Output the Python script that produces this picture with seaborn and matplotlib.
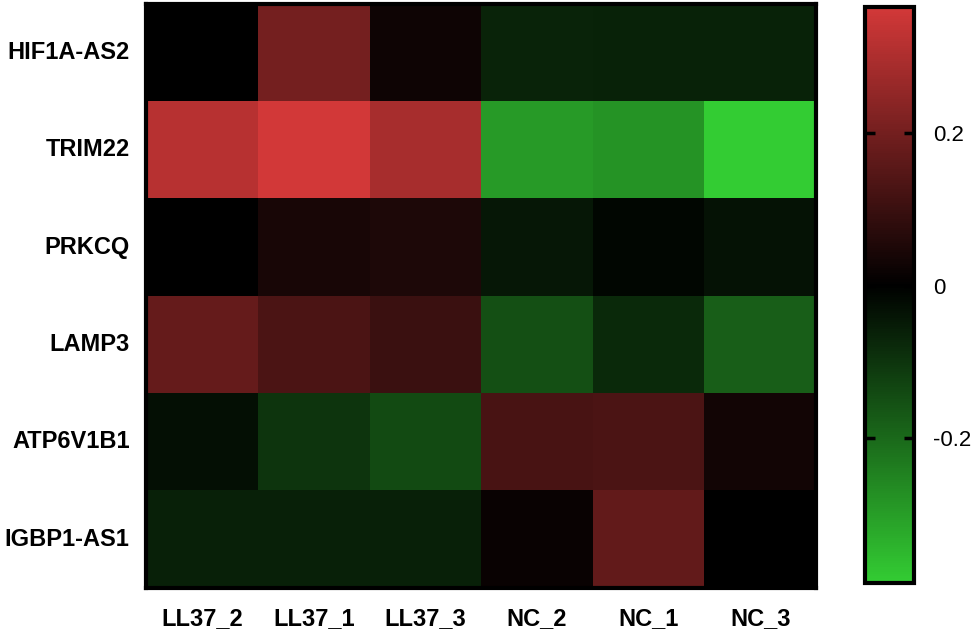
import numpy as np
import pandas as pd
import seaborn as sns
import matplotlib.pyplot as plt
from matplotlib.colors import LinearSegmentedColormap

genes = ["HIF1A-AS2", "TRIM22", "PRKCQ", "LAMP3", "ATP6V1B1", "IGBP1-AS1"]
samples = ["LL37_2", "LL37_1", "LL37_3", "NC_2", "NC_1", "NC_3"]

hif1a_as2 = [0.0, 0.20, 0.025, -0.067, -0.065, -0.065]
trim22 = [0.315, 0.365, 0.29, -0.295, -0.28, -0.39]
prkcq = [0.0, 0.042, 0.05, -0.042, -0.01, -0.035]
lamp3 = [0.175, 0.13, 0.10, -0.15, -0.08, -0.18]
atp6v1b1 = [-0.03, -0.10, -0.14, 0.125, 0.13, 0.03]
igbp1_as1 = [-0.06, -0.06, -0.06, 0.015, 0.17, 0.0]

vmin, vmax = -0.39, 0.365

df = pd.DataFrame([hif1a_as2, trim22, prkcq, lamp3, atp6v1b1, igbp1_as1],
                  index=genes, columns=samples)

# green - black - red, black sitting at 0
z = -vmin / (vmax - vmin)
cmap = LinearSegmentedColormap.from_list(
    "gbr", [(0.0, "#33CC33"), (z, "#000000"), (1.0, "#D23838")])

plt.rcParams['font.family'] = ['Liberation Sans', 'DejaVu Sans']
plt.rcParams['text.color'] = 'black'

fig = plt.figure(figsize=(9.76, 6.32), dpi=100)
ax = fig.add_axes([0.150, 0.070, 0.686, 0.924])
cax = fig.add_axes([0.886, 0.0775, 0.050, 0.911])

sns.heatmap(df, ax=ax, cbar_ax=cax, cmap=cmap, vmin=vmin, vmax=vmax,
            linewidths=0, cbar_kws={"ticks": [-0.2, 0, 0.2]})

for s in ax.spines.values():
    s.set_visible(True)
    s.set_linewidth(3)
    s.set_color("black")

ax.tick_params(axis="both", length=0, colors="black")
ax.tick_params(axis="x", pad=14)
ax.tick_params(axis="y", pad=12)
ax.set_xticklabels(samples, rotation=0, fontsize=17, fontweight="bold")
ax.set_yticklabels(genes, rotation=0, fontsize=17, fontweight="bold")
ax.set_xlabel("")
ax.set_ylabel("")

cbar = ax.collections[0].colorbar
cbar.outline.set_linewidth(3)
cbar.outline.set_edgecolor("black")
cbar.ax.tick_params(direction="in", left=True, right=True, length=7,
                    width=2.5, color="black", labelcolor="black",
                    labelsize=16, pad=14)
cbar.ax.set_yticklabels(["-0.2", "0", "0.2"])

fig.savefig("out.png", dpi=100)
